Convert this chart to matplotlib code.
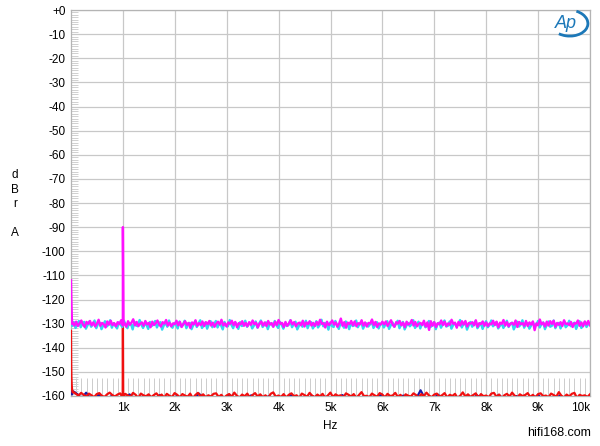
import numpy as np
import matplotlib
matplotlib.use("Agg")
import matplotlib.pyplot as plt
from matplotlib.ticker import MultipleLocator
from matplotlib.patches import Arc

plt.rcParams['font.family'] = ['Liberation Sans', 'DejaVu Sans']

# ---------------- data ----------------
y_ticks = list(range(0, -170, -10))
y_tick_labels = ['+0'] + [str(v) for v in y_ticks[1:]]
x_ticks = [1000, 2000, 3000, 4000, 5000, 6000, 7000, 8000, 9000, 10000]
x_tick_labels = ['1k', '2k', '3k', '4k', '5k', '6k', '7k', '8k', '9k', '10k']

# magenta trace (noise floor + 1 kHz tone)
mag_lf_freq = [0, 8, 16, 24]
mag_lf_db = [-112.0, -121.0, -127.5, -130.2]
mag_tone_freq = [988, 1000, 1012]
mag_tone_db = [-130.0, -90.0, -130.3]
mag_noise = [
    -129.6, -130.8, -129.2, -131.0, -129.9, -128.7, -130.5, -131.4, -129.3, -130.1,
    -128.9, -130.7, -129.5, -131.2, -130.0, -128.4, -130.9, -129.7, -130.3, -131.6,
    -129.1, -130.4, -128.8, -130.6, -129.8, -131.1, -129.4, -130.2, -128.6, -130.8,
    -129.9, -131.3, -129.0, -130.5, -129.6, -128.2, -130.7, -129.3, -131.0, -130.1,
    -129.5, -130.9, -128.9, -130.3, -129.7, -131.5, -129.2, -130.6, -129.8, -128.7,
    -130.4, -131.2, -129.4, -130.0, -128.5, -130.8, -129.6, -131.1, -129.9, -130.2,
    -128.8, -130.7, -129.3, -131.4, -130.1, -129.0, -130.5, -129.7, -131.8, -129.5,
    -130.3, -128.6, -130.9, -129.8, -130.6, -129.1, -131.0, -129.4, -130.2, -128.9,
    -130.8, -129.6, -131.3, -130.0, -129.2, -130.4, -128.4, -130.7, -129.9, -131.2,
    -129.5, -130.1, -128.8, -130.6, -129.3, -131.5, -129.8, -130.3, -129.0, -130.9,
    -129.7, -131.1, -129.4, -130.5, -128.7, -130.2, -129.6, -131.6, -130.0, -129.1,
    -130.8, -129.5, -131.0, -128.9, -130.4, -129.8, -131.3, -129.2, -130.6, -128.5,
    -130.1, -129.7, -131.4, -129.3, -130.9, -129.9, -128.6, -130.3, -129.4, -131.1,
    -130.0, -129.6, -130.7, -128.8, -131.2, -129.5, -130.2, -129.0, -130.8, -129.7,
    -131.0, -129.3, -130.5, -128.4, -130.1, -129.8, -131.6, -129.2, -130.6, -129.9,
    -128.7, -130.4, -129.5, -131.3, -130.0, -127.9, -130.9, -129.4, -131.7, -129.6,
    -130.2, -128.9, -130.7, -129.1, -131.1, -129.8, -130.3, -128.6, -130.8, -129.5,
    -131.2, -129.7, -130.0, -128.3, -130.6, -129.3, -131.4, -129.9, -130.4, -129.2,
    -130.3, -129.1, -131.0, -129.8, -128.6, -130.5, -131.3, -129.4, -130.0, -128.9,
    -130.7, -129.6, -131.5, -129.2, -130.4, -129.9, -128.5, -130.8, -129.3, -131.1,
    -130.1, -129.7, -130.6, -128.8, -131.2, -129.5, -132.6, -129.0, -130.9, -129.4,
    -131.4, -129.8, -130.3, -128.7, -130.6, -129.2, -131.0, -129.9, -130.5, -128.4,
    -130.1, -129.6, -131.7, -129.3, -130.8, -129.0, -130.4, -128.9, -131.2, -129.7,
    -130.0, -129.4, -130.7, -128.6, -131.3, -129.8, -130.2, -129.1, -130.9, -129.5,
    -131.0, -129.9, -130.3, -128.8, -130.6, -129.2, -131.5, -129.6, -130.1, -128.5,
    -130.8, -129.4, -131.1, -130.0, -129.7, -130.5, -128.7, -131.4, -129.3, -130.2,
    -129.8, -130.9, -128.9, -131.0, -129.5, -130.4, -129.1, -132.7, -129.9, -130.7,
    -128.3, -130.3, -129.6, -131.2, -129.2, -130.8, -129.0, -130.1, -128.8, -131.3,
    -129.7, -130.5, -129.4, -131.0, -128.6, -130.2, -129.9, -130.6, -129.3, -131.4,
    -129.8, -130.0, -128.7, -130.9, -129.5, -131.1, -129.1, -130.4, -128.9, -130.7,
]

# cyan trace (second channel noise floor)
cyan_lf_freq = [0, 8]
cyan_lf_db = [-125.0, -130.5]
cyan_noise = [
    -130.9, -129.4, -131.8, -130.2, -128.9, -131.5, -130.0, -129.3, -132.1, -130.6,
    -129.1, -131.3, -130.4, -128.7, -131.9, -130.1, -129.6, -132.3, -130.8, -129.0,
    -131.2, -130.5, -128.6, -131.7, -129.8, -130.9, -132.0, -129.5, -130.3, -131.4,
    -128.8, -130.7, -131.9, -129.7, -130.1, -132.4, -129.2, -130.8, -131.1, -128.5,
    -130.4, -131.8, -129.9, -130.6, -132.2, -129.3, -131.0, -130.2, -128.9, -131.6,
    -130.0, -129.4, -132.5, -130.7, -129.6, -131.3, -128.7, -130.9, -131.7, -129.8,
    -130.3, -132.0, -129.1, -131.2, -130.5, -128.8, -131.9, -130.1, -129.7, -132.3,
    -130.6, -129.2, -131.4, -130.0, -128.6, -131.8, -130.8, -129.5, -132.1, -130.2,
    -129.0, -131.5, -130.4, -128.9, -131.6, -129.9, -130.7, -132.4, -129.3, -130.9,
    -131.1, -128.5, -130.5, -131.9, -129.6, -130.1, -132.2, -129.4, -131.0, -130.6,
    -128.8, -131.3, -130.3, -129.7, -132.0, -130.8, -129.1, -131.7, -130.0, -128.7,
    -131.4, -130.5, -129.5, -132.3, -130.2, -129.8, -131.2, -128.9, -130.7, -131.8,
    -129.3, -130.4, -132.1, -129.9, -131.0, -130.6, -128.6, -131.5, -130.1, -129.2,
    -132.4, -130.9, -129.6, -131.3, -130.3, -128.8, -131.9, -130.0, -129.4, -132.0,
    -130.8, -129.0, -131.6, -130.5, -128.4, -131.1, -129.7, -130.2, -132.5, -129.5,
    -130.9, -131.4, -128.9, -130.6, -132.2, -129.8, -130.4, -131.7, -129.1, -130.0,
    -132.3, -129.6, -131.0, -130.7, -128.7, -131.5, -130.1, -129.3, -132.1, -130.5,
    -129.9, -131.2, -130.3, -128.8, -131.8, -130.6, -129.4, -132.0, -130.2, -129.7,
    -131.6, -130.2, -129.0, -132.2, -130.7, -129.5, -131.3, -130.0, -128.8, -131.9,
    -130.4, -129.3, -132.4, -130.9, -129.7, -131.1, -130.3, -128.6, -131.8, -130.6,
    -129.2, -132.0, -130.1, -129.8, -131.5, -130.8, -128.9, -131.4, -130.5, -129.4,
    -132.3, -130.0, -129.6, -131.7, -130.2, -128.7, -131.2, -130.9, -129.1, -132.1,
    -130.6, -129.9, -131.0, -130.4, -128.5, -131.6, -130.1, -129.5, -132.5, -130.7,
    -129.3, -131.3, -130.0, -128.9, -131.9, -130.8, -129.7, -132.2, -130.3, -129.0,
    -131.5, -130.6, -128.7, -131.1, -130.2, -129.4, -132.0, -130.9, -129.8, -131.8,
    -130.5, -128.8, -131.4, -130.1, -129.6, -132.4, -130.7, -129.2, -131.2, -130.4,
    -128.6, -131.7, -130.0, -129.9, -132.1, -130.8, -129.3, -131.0, -130.5, -128.9,
    -131.6, -130.2, -129.5, -132.3, -130.6, -129.1, -131.3, -130.9, -128.7, -131.9,
    -130.3, -129.7, -132.0, -130.0, -129.4, -131.5, -130.7, -128.8, -131.1, -130.1,
    -129.6, -132.2, -130.4, -129.0, -131.8, -130.8, -129.3, -131.4, -130.2, -129.8,
]

# red trace (near the -160 floor, 1 kHz residual)
red_lf_freq = [0, 4, 8, 14, 22, 32]
red_lf_db = [-133.0, -146.0, -152.0, -155.5, -157.5, -158.5]
red_tone_freq = [994, 1000, 1006]
red_tone_db = [-160.6, -130.0, -160.6]
red_floor = [
    -158.3, -159.1, -159.8, -158.7, -159.5, -160.3, -159.0, -159.7, -160.5, -159.2,
    -158.8, -159.9, -160.4, -159.3, -158.6, -159.6, -160.2, -159.4, -158.9, -160.6,
    -159.1, -159.8, -160.3, -158.7, -159.5, -160.8, -159.0, -159.7, -160.1, -159.3,
    -160.5, -159.6, -158.9, -160.2, -159.4, -160.7, -159.1, -159.9, -160.4, -158.8,
    -159.5, -160.6, -159.2, -159.8, -160.3, -159.0, -160.9, -159.6, -158.7, -160.1,
    -159.3, -160.5, -159.7, -160.2, -159.1, -158.9, -160.4, -159.5, -160.8, -159.8,
    -159.2, -160.3, -158.6, -159.9, -160.6, -159.4, -160.1, -159.0, -160.7, -159.6,
    -158.8, -160.2, -159.3, -160.5, -159.7, -160.9, -159.1, -158.5, -160.3, -159.8,
    -160.4, -159.2, -160.6, -159.5, -158.9, -160.1, -159.7, -160.8, -159.0, -159.6,
    -160.3, -158.7, -159.9, -160.5, -159.4, -160.2, -159.1, -160.7, -159.8, -158.6,
    -160.4, -159.3, -160.0, -159.7, -160.6, -158.9, -159.5, -160.2, -159.2, -160.8,
    -159.6, -158.4, -160.1, -159.9, -160.5, -159.0, -159.7, -160.3, -158.8, -159.4,
    -160.6, -159.1, -160.0, -159.8, -158.7, -160.4, -159.5, -160.9, -159.3, -159.9,
    -160.2, -158.9, -159.6, -160.7, -159.2, -160.1, -158.6, -159.8, -160.5, -159.4,
    -159.0, -160.3, -159.7, -158.8, -160.6, -159.5, -160.0, -159.1, -160.8, -159.9,
    -158.5, -160.2, -159.3, -160.4, -159.6, -158.9, -160.7, -159.2, -160.1, -159.8,
    -160.5, -159.0, -158.7, -160.3, -159.4, -160.9, -159.7, -159.1, -160.2, -158.6,
    -159.9, -160.6, -159.3, -160.0, -159.6, -158.8, -160.4, -159.5, -160.7, -159.2,
    -158.9, -160.1, -159.8, -160.5, -159.0, -159.6, -160.3, -158.4, -159.9, -160.6,
    -159.4, -160.2, -159.1, -158.7, -160.8, -159.5, -160.0, -159.7, -160.4, -159.3,
]

# blue trace (second channel near the floor)
blue_lf_freq = [0, 6, 12, 20]
blue_lf_db = [-156.0, -158.0, -158.8, -159.4]
blue_floor = [
    -158.0, -159.2, -161.0, -158.6, -161.0, -161.0, -159.5, -161.0, -161.0, -159.8,
    -161.0, -161.0, -161.0, -159.3, -161.0, -161.0, -160.2, -161.0, -161.0, -161.0,
    -159.6, -161.0, -161.0, -161.0, -159.9, -161.0, -161.0, -161.0, -161.0, -159.0,
    -161.0, -161.0, -160.4, -161.0, -161.0, -161.0, -159.4, -161.0, -161.0, -161.0,
    -161.0, -159.7, -161.0, -161.0, -161.0, -160.1, -161.0, -161.0, -161.0, -161.0,
    -159.5, -161.0, -161.0, -161.0, -161.0, -159.9, -161.0, -161.0, -160.3, -161.0,
    -161.0, -161.0, -159.6, -161.0, -161.0, -161.0, -161.0, -160.0, -161.0, -161.0,
    -161.0, -159.3, -161.0, -161.0, -161.0, -161.0, -159.8, -161.0, -161.0, -161.0,
    -157.6, -161.0, -161.0, -161.0, -159.4, -161.0, -161.0, -161.0, -161.0, -160.2,
    -161.0, -161.0, -161.0, -159.7, -161.0, -161.0, -161.0, -161.0, -159.5, -161.0,
    -161.0, -161.0, -160.0, -161.0, -161.0, -161.0, -161.0, -159.6, -161.0, -161.0,
    -161.0, -161.0, -159.9, -161.0, -161.0, -161.0, -161.0, -160.3, -161.0, -161.0,
]


def build(lf_f, lf_d, noise, f0, f1, tone_f=None, tone_d=None):
    f = list(lf_f) + list(np.linspace(f0, f1, len(noise)))
    d = list(lf_d) + list(noise)
    if tone_f is not None:
        f += list(tone_f)
        d += list(tone_d)
    order = np.argsort(f, kind='stable')
    return np.asarray(f)[order], np.asarray(d)[order]


fig = plt.figure(figsize=(6.0, 4.46), dpi=100)
ax = fig.add_axes([71 / 600, 1 - 396 / 446, 519 / 600, 386 / 446])

fc, dc = build(cyan_lf_freq, cyan_lf_db, cyan_noise, 20, 10000)
fm, dm = build(mag_lf_freq, mag_lf_db, mag_noise, 32, 10000, mag_tone_freq, mag_tone_db)
fb, db = build(blue_lf_freq, blue_lf_db, blue_floor, 40, 10000)
fr, dr = build(red_lf_freq, red_lf_db, red_floor, 45, 10000, red_tone_freq, red_tone_db)

ax.plot(fb, db, color='#1a1aa8', lw=1.5, zorder=3)
ax.plot(fr, dr, color='#f01010', lw=1.6, zorder=4)
ax.plot(fc, dc, color='#33d6f0', lw=1.7, zorder=5)
ax.plot(fm, dm, color='#ff10ff', lw=1.7, zorder=6)

ax.set_xlim(0, 10000)
ax.set_ylim(-160, 0)

ax.set_yticks(y_ticks)
ax.set_yticklabels(y_tick_labels)
ax.set_xticks(x_ticks)
ax.set_xticklabels(x_tick_labels)
ax.yaxis.set_minor_locator(MultipleLocator(1))
ax.xaxis.set_minor_locator(MultipleLocator(100))

ax.grid(True, which='major', color='#c8c8c8', lw=0.9)
ax.tick_params(which='major', length=0, labelsize=8.5, colors='black', pad=4)
ax.tick_params(axis='y', which='minor', direction='in', length=5, width=0.7, color='#d0d0d0')
ax.tick_params(axis='x', which='minor', direction='in', length=13, width=0.7, color='#cccccc')
for s in ax.spines.values():
    s.set_color('#b4b4b4')
    s.set_linewidth(0.9)

ax.get_xticklabels()[-1].set_horizontalalignment('right')

fig.text(330 / 600, 1 - 426 / 446, 'Hz', ha='center', va='center', fontsize=8.5)
for txt, yp in [('d', 175), ('B', 190), ('r', 204), ('A', 233)]:
    fig.text(15 / 600, 1 - yp / 446, txt, ha='center', va='center', fontsize=8.5)
fig.text(591 / 600, 1 - 433 / 446, 'hifi168.com', ha='right', va='center', fontsize=9)

# Ap logo
fig.text(566 / 600, 1 - 24 / 446, 'Ap', ha='center', va='center', fontsize=13,
         style='italic', color='#1c78b8')
arc = Arc((569 / 600, 1 - 23 / 446), 38 / 600, 26 / 446, angle=-15, theta1=-110, theta2=80,
          transform=fig.transFigure, color='#1c78b8', lw=2.0)
fig.add_artist(arc)

fig.savefig('out.png', dpi=100, facecolor='white')
